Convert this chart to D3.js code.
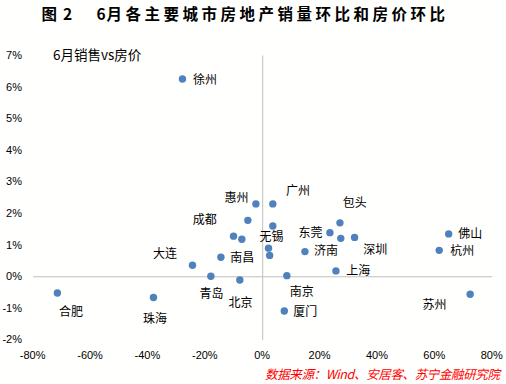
<!DOCTYPE html>
<html><head><meta charset="utf-8">
<script src="https://cdn.jsdelivr.net/npm/d3@7"></script>
<style>html,body{margin:0;padding:0;background:#fffffd;}svg{display:block;}</style>
</head><body>
<svg id="c" width="506" height="384"></svg>
<script>
// ---- data ----
const cities = ["徐州","惠州","广州","成都","无锡","包头","东莞","","深圳","","","","","济南","南昌","大连","上海","青岛","北京","南京","厦门","合肥","珠海","佛山","杭州","苏州"];
const salesMoM = [-27.8,-2.2,3.7,-5.0,3.7,27.1,23.6,27.4,32.2,-10.0,-7.1,2.2,2.6,14.9,-14.4,-24.3,25.7,-17.9,-7.8,8.6,7.7,-71.4,-37.9,65.0,61.7,72.5];
const priceMoM = [6.24,2.29,2.29,1.77,1.59,1.69,1.38,1.20,1.23,1.27,1.17,0.89,0.66,0.78,0.60,0.35,0.17,0.00,-0.12,0.02,-1.10,-0.53,-0.67,1.34,0.82,-0.57];
const xTicks = [-80,-60,-40,-20,0,20,40,60,80];
const yTicks = [-2,-1,0,1,2,3,4,5,6,7];
const titleParts = ["图","2","6","月各主要城市房地产销量环比和房价环比"];
const subtitle = "6月销售vs房价";
const source = "数据来源：Wind、安居客、苏宁金融研究院";

// ---- label layout (pixel offsets of label centre from point) ----
const labelOffset = {
  "徐州":[22.6,0],"惠州":[-19.3,-6.7],"广州":[25.3,-13],"成都":[-43,-0.7],"无锡":[-1.3,10.6],
  "包头":[14.7,-20.4],"东莞":[-19.3,0],"深圳":[20.6,12.3],"济南":[21,-1],"南昌":[21.3,0],
  "大连":[-27.4,-11.7],"上海":[22.3,0],"青岛":[0.7,17],"北京":[0.8,22.6],"南京":[15,15.4],
  "厦门":[21,0],"合肥":[13.6,18],"珠海":[1.6,21.3],"佛山":[21.6,0],"杭州":[23,0],"苏州":[-35.7,10.3]
};
const titleX = [41.5, 63, 96.5, 106.5];

const svg = d3.select("#c");
const x = d3.scaleLinear().domain([-80,80]).range([32.7,491.7]);
const y = d3.scaleLinear().domain([-2,7]).range([339.5,55]);
const axisColor = "#bfbfbf";
const tickFont = "'Liberation Sans', Arial, sans-serif";
const cjkFont = "'Noto Sans CJK SC', sans-serif";

// title
const t = svg.append("text").attr("y",19.5)
  .attr("font-family","'Noto Sans CJK SC', sans-serif").attr("font-weight","bold")
  .attr("font-size",15.5).attr("fill","#000");
titleParts.forEach((p,i)=>{
  const ts = t.append("tspan").attr("x",titleX[i]).text(p);
  if (i===3) ts.attr("textLength",338.5).attr("lengthAdjust","spacing");
});

// subtitle
svg.append("text").attr("x",53).attr("y",59.5)
  .attr("font-family",cjkFont).attr("font-size",13.5).attr("fill","#000")
  .text(subtitle);

// axes via d3 axis generators (lines through origin)
const xAxis = svg.append("g").attr("transform",`translate(0,${y(0)})`)
  .call(d3.axisBottom(x).tickValues([]).tickSizeOuter(0));
xAxis.select(".domain").attr("stroke",axisColor).attr("stroke-width",1);
const yAxis = svg.append("g").attr("transform",`translate(${x(0)},0)`)
  .call(d3.axisLeft(y).tickValues([]).tickSizeOuter(0));
yAxis.select(".domain").attr("stroke",axisColor).attr("stroke-width",1);

// x tick labels at bottom
svg.append("g").selectAll("text").data(xTicks).join("text")
  .attr("x",d=>x(d)).attr("y",358.5).attr("text-anchor","middle")
  .attr("font-family",tickFont).attr("font-size",11).attr("fill","#000")
  .text(d=>d+"%");

// y tick labels at left
svg.append("g").selectAll("text").data(yTicks).join("text")
  .attr("x",22).attr("y",d=>y(d)).attr("dy","0.36em").attr("text-anchor","end")
  .attr("font-family",tickFont).attr("font-size",11).attr("fill","#000")
  .text(d=>d+"%");

// points
const pts = cities.map((c,i)=>({c, sx:salesMoM[i], py:priceMoM[i]}));
svg.append("g").selectAll("circle").data(pts).join("circle")
  .attr("cx",d=>x(d.sx)).attr("cy",d=>y(d.py)).attr("r",3.7)
  .attr("fill","#4f81bd");

// labels
svg.append("g").selectAll("text").data(pts.filter(d=>d.c && labelOffset[d.c])).join("text")
  .attr("x",d=>x(d.sx)+labelOffset[d.c][0]).attr("y",d=>y(d.py)+labelOffset[d.c][1])
  .attr("dy","0.38em").attr("text-anchor","middle")
  .attr("font-family",cjkFont).attr("font-size",12).attr("fill","#000")
  .text(d=>d.c);

// source
svg.append("text").attr("x",500).attr("y",379).attr("text-anchor","end")
  .attr("font-family",cjkFont).attr("font-size",12.5).attr("font-style","italic")
  .attr("fill","#ff0000").attr("textLength",235).attr("lengthAdjust","spacing")
  .text(source);
</script>
</body></html>
